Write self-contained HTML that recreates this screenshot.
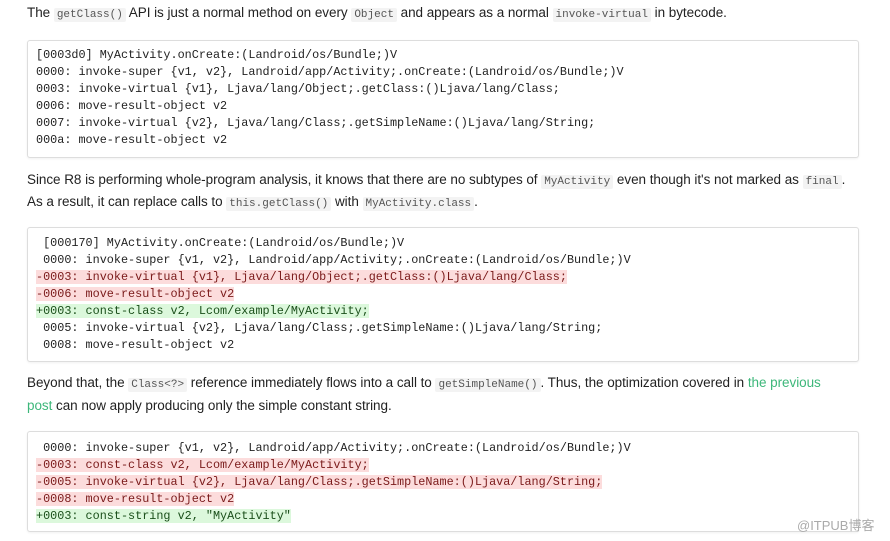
<!DOCTYPE html>
<html><head><meta charset="utf-8"><style>
*{margin:0;padding:0;box-sizing:border-box}
body{width:890px;height:541px;background:#fff;position:relative;overflow:hidden;font-family:"Liberation Sans",sans-serif;color:#222}
.p{position:absolute;left:27px;font-size:13.5px;letter-spacing:-0.05px;white-space:nowrap;line-height:20px}
.p code{font-family:"Liberation Mono",monospace;font-size:11px;letter-spacing:0;background:#f3f3f3;padding:1px 3px;border-radius:2px;color:#555}
.box{position:absolute;left:27px;width:832px;border:1px solid #ddd;border-radius:3px;background:#fff;box-shadow:0 1px 2px rgba(0,0,0,.06)}
.c{position:absolute;left:36px;font-family:"Liberation Mono",monospace;font-size:11.8px;line-height:17px;white-space:pre;color:#222}
.r{background:#fcdcdc;color:#7a1a1a}
.g{background:#dcf8dc;color:#1a4f1a}
a{color:#3db77a;text-decoration:none}
.wm{position:absolute;left:797px;top:515px;font-size:13px;color:#aaa;font-family:"Liberation Sans","Noto Sans CJK SC",sans-serif}
</style></head><body>
<div class="p" style="top:3px">The <code>getClass()</code> API is just a normal method on every <code>Object</code> and appears as a normal <code>invoke-virtual</code> in bytecode.</div>
<div class="box" style="top:40px;height:118px"></div>
<div class="c" style="top:47px">[0003d0] MyActivity.onCreate:(Landroid/os/Bundle;)V
0000: invoke-super {v1, v2}, Landroid/app/Activity;.onCreate:(Landroid/os/Bundle;)V
0003: invoke-virtual {v1}, Ljava/lang/Object;.getClass:()Ljava/lang/Class;
0006: move-result-object v2
0007: invoke-virtual {v2}, Ljava/lang/Class;.getSimpleName:()Ljava/lang/String;
000a: move-result-object v2</div>
<div class="p" style="top:170px">Since R8 is performing whole-program analysis, it knows that there are no subtypes of <code>MyActivity</code> even though it's not marked as <code>final</code>.</div>
<div class="p" style="top:192px">As a result, it can replace calls to <code>this.getClass()</code> with <code>MyActivity.class</code>.</div>
<div class="box" style="top:227px;height:135px"></div>
<div class="c" style="top:235px"> [000170] MyActivity.onCreate:(Landroid/os/Bundle;)V
 0000: invoke-super {v1, v2}, Landroid/app/Activity;.onCreate:(Landroid/os/Bundle;)V
<span class="r">-0003: invoke-virtual {v1}, Ljava/lang/Object;.getClass:()Ljava/lang/Class;</span>
<span class="r">-0006: move-result-object v2</span>
<span class="g">+0003: const-class v2, Lcom/example/MyActivity;</span>
 0005: invoke-virtual {v2}, Ljava/lang/Class;.getSimpleName:()Ljava/lang/String;
 0008: move-result-object v2</div>
<div class="p" style="top:373px">Beyond that, the <code>Class&lt;?&gt;</code> reference immediately flows into a call to <code>getSimpleName()</code>. Thus, the optimization covered in <a>the previous</a></div>
<div class="p" style="top:396px"><a>post</a> can now apply producing only the simple constant string.</div>
<div class="box" style="top:431px;height:101px"></div>
<div class="c" style="top:440px"> 0000: invoke-super {v1, v2}, Landroid/app/Activity;.onCreate:(Landroid/os/Bundle;)V
<span class="r">-0003: const-class v2, Lcom/example/MyActivity;</span>
<span class="r">-0005: invoke-virtual {v2}, Ljava/lang/Class;.getSimpleName:()Ljava/lang/String;</span>
<span class="r">-0008: move-result-object v2</span>
<span class="g">+0003: const-string v2, "MyActivity"</span></div>
<div class="wm">@ITPUB博客</div>
</body></html>
